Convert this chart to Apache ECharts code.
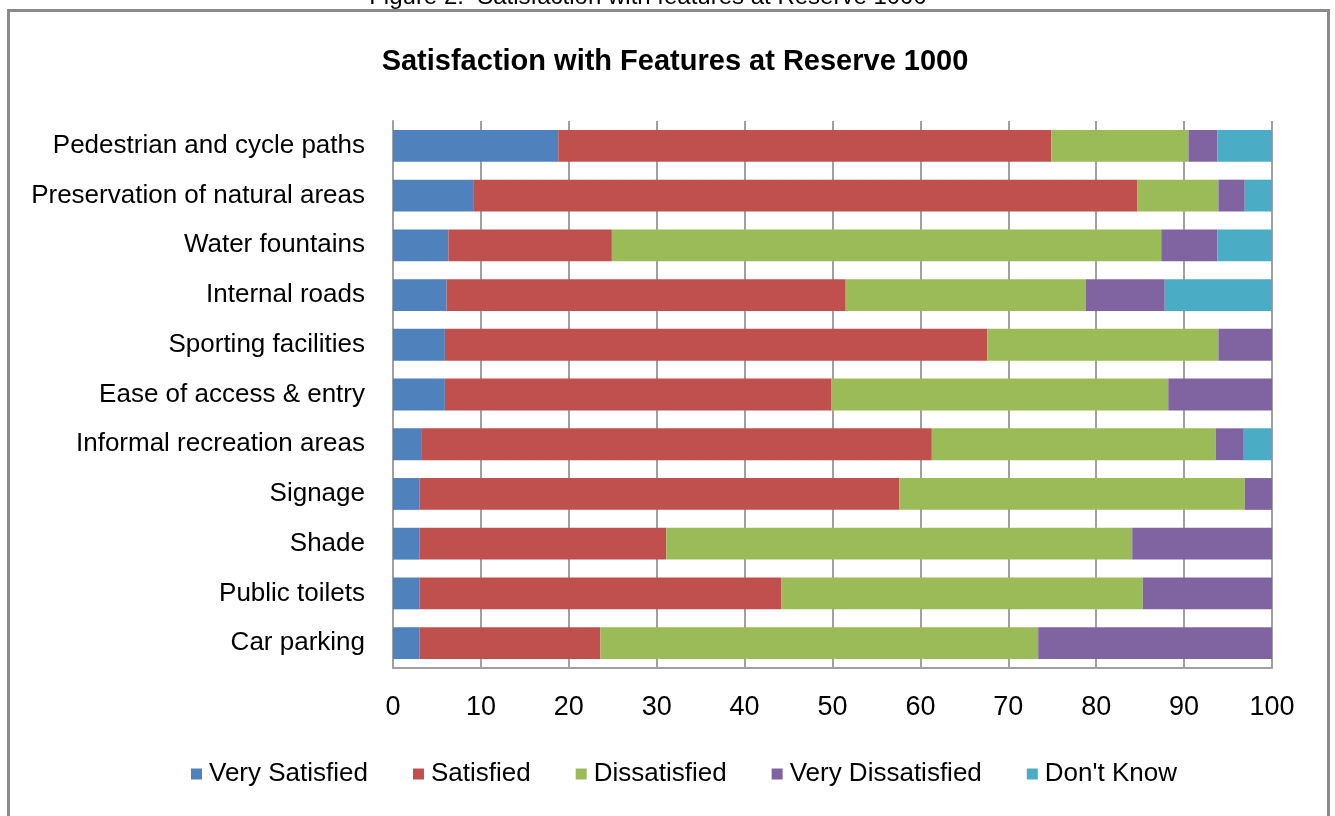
<!DOCTYPE html>
<html>
<head>
<meta charset="utf-8">
<script src="https://cdn.jsdelivr.net/npm/echarts@6/dist/echarts.min.js"></script>
<style>
html,body{margin:0;padding:0;background:#fff;}
#chart{width:1335px;height:816px;}
</style>
</head>
<body>
<div id="chart"></div>
<script>
const categories = [
  "Pedestrian and cycle paths",
  "Preservation of natural areas",
  "Water fountains",
  "Internal roads",
  "Sporting facilities",
  "Ease of access & entry",
  "Informal recreation areas",
  "Signage",
  "Shade",
  "Public toilets",
  "Car parking"
];
const verySatisfied    = [18.8, 9.2, 6.3, 6.1, 5.9, 5.9, 3.2, 3.0, 3.0, 3.0, 3.0];
const satisfied        = [56.1, 75.5, 18.6, 45.4, 61.7, 44.0, 58.1, 54.6, 28.1, 41.2, 20.6];
const dissatisfied     = [15.6, 9.2, 62.5, 27.3, 26.3, 38.3, 32.3, 39.3, 53.0, 41.1, 49.8];
const veryDissatisfied = [3.3, 3.0, 6.4, 9.0, 6.1, 11.8, 3.1, 3.1, 15.9, 14.7, 26.6];
const dontKnow         = [6.2, 3.1, 6.2, 12.2, 0, 0, 3.3, 0, 0, 0, 0];
const seriesNames = ["Very Satisfied", "Satisfied", "Dissatisfied", "Very Dissatisfied", "Don't Know"];
const colors = ["#4f81bd", "#c0504d", "#9bbb59", "#8064a2", "#4bacc6"];

const FONT = "'Liberation Sans Narrow', 'Arial Narrow', 'Liberation Sans', sans-serif";
const dataSets = [verySatisfied, satisfied, dissatisfied, veryDissatisfied, dontKnow];

const chart = echarts.init(document.getElementById('chart'), null, {renderer: 'canvas'});
chart.setOption({
  animation: false,
  backgroundColor: '#ffffff',
  color: colors,
  title: {
    text: 'Satisfaction with Features at Reserve 1000',
    left: 670, top: 42, textAlign: 'center',
    textStyle: {fontFamily: FONT, fontSize: 29, fontWeight: 'bold', color: '#000'}
  },
  graphic: [
    {type: 'rect', shape: {x: 8.5, y: 10.5, width: 1320, height: 900}, style: {fill: null, stroke: '#8a8a8a', lineWidth: 3}, z: 100},
    {type: 'text', x: 648, y: -15, style: {text: 'Figure 2.  Satisfaction with features at Reserve 1000', fontFamily: FONT, fontSize: 24, fill: '#000', align: 'center', textAlign: 'center'}}
  ],
  legend: {
    bottom: 24, left: 186,
    itemWidth: 11, itemHeight: 11, itemGap: 45,
    icon: 'rect',
    textStyle: {fontFamily: FONT, fontSize: 26, color: '#000', padding: [0, 0, 0, 2]},
    data: seriesNames
  },
  grid: {left: 393, right: 63, top: 121, bottom: 148, containLabel: false},
  xAxis: {
    type: 'value', min: 0, max: 100, interval: 10,
    axisLine: {show: true, lineStyle: {color: '#a0a0a0', width: 2}},
    axisTick: {show: false},
    splitLine: {show: true, lineStyle: {color: '#a0a0a0', width: 2}},
    axisLabel: {fontFamily: FONT, fontSize: 27, color: '#000', margin: 26}
  },
  yAxis: {
    type: 'category', data: categories, inverse: true,
    axisLine: {show: true, lineStyle: {color: '#a0a0a0', width: 2}},
    axisTick: {show: false},
    axisLabel: {fontFamily: FONT, fontSize: 26, color: '#000', margin: 28}
  },
  series: seriesNames.map((n, i) => ({
    name: n, type: 'bar', stack: 'total', barWidth: '64%',
    data: dataSets[i],
    itemStyle: {color: colors[i]}
  }))
});
</script>
</body>
</html>
